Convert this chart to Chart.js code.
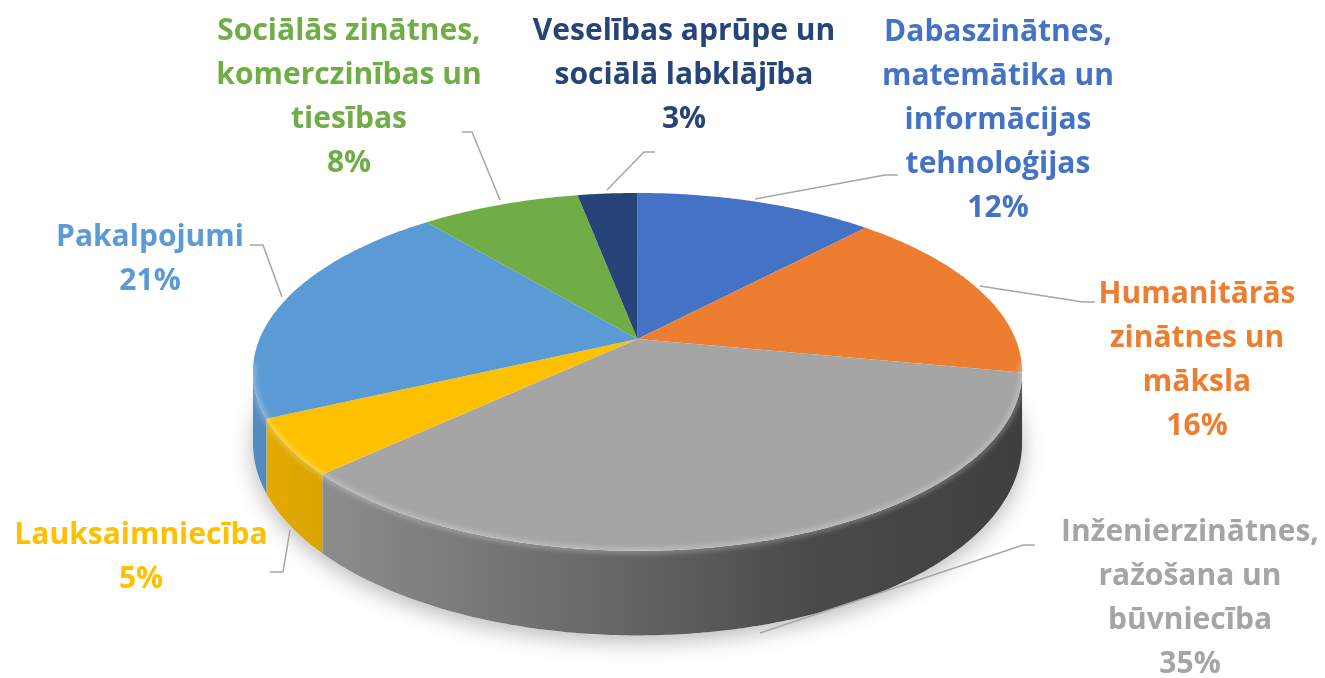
<!DOCTYPE html>
<html>
<head>
<meta charset="utf-8">
<script src="https://cdn.jsdelivr.net/npm/chart.js@4.4.0/dist/chart.umd.min.js"></script>
<style>
  html, body { margin: 0; background: #fff; }
  #wrap { width: 1325px; height: 678px; }
</style>
</head>
<body>
<div id="wrap"><canvas id="c"></canvas></div>
<script>
const categories = [
  'Dabaszinātnes, matemātika un informācijas tehnoloģijas',
  'Humanitārās zinātnes un māksla',
  'Inženierzinātnes, ražošana un būvniecība',
  'Lauksaimniecība',
  'Pakalpojumi',
  'Sociālās zinātnes, komerczinības un tiesības',
  'Veselības aprūpe un sociālā labklājība'
];
const shares = [12, 16, 35, 5, 21, 8, 3];
const colors = ['#4472C4', '#ED7D31', '#A5A5A5', '#FFC000', '#5B9BD5', '#70AD47', '#264478'];
const labelLines = [
  ['Dabaszinātnes,', 'matemātika un', 'informācijas', 'tehnoloģijas'],
  ['Humanitārās', 'zinātnes un', 'māksla'],
  ['Inženierzinātnes,', 'ražošana un', 'būvniecība'],
  ['Lauksaimniecība'],
  ['Pakalpojumi'],
  ['Sociālās zinātnes,', 'komerczinības un', 'tiesības'],
  ['Veselības aprūpe un', 'sociālā labklājība']
];

function rgb(hex, f) {
  const n = parseInt(hex.slice(1), 16);
  const c = [(n >> 16) & 255, (n >> 8) & 255, n & 255].map(v => Math.round(v * f));
  return 'rgb(' + c.join(',') + ')';
}

// 3D look: perspective projection of the library's arcs
function geom(chart) {
  const a0 = chart.getDatasetMeta(0).data[0];
  const cx = a0.x, cy = a0.y, r = a0.outerRadius;
  const B = r * 1.115, A = r * 0.51, H = r * 0.2035, u = 0.184;
  const P = (t, lvl) => {
    const d = 1 + u * Math.cos(t);
    return [cx + B * Math.sin(t) / d, cy - A * Math.cos(t) / d + lvl * H / d];
  };
  return {cx, cy, r, u, P};
}

function rimPath(ctx, P, t1, t2, lvl, move) {
  const n = Math.max(2, Math.ceil(Math.abs(t2 - t1) / 0.01));
  for (let i = 0; i <= n; i++) {
    const p = P(t1 + (t2 - t1) * i / n, lvl);
    if (move && i === 0) ctx.moveTo(p[0], p[1]); else ctx.lineTo(p[0], p[1]);
  }
}

const pie3d = {
  id: 'pie3d',
  beforeDatasetsDraw(chart) {
    const ctx = chart.ctx;
    const meta = chart.getDatasetMeta(0);
    const g = geom(chart);
    const P = g.P;
    const tL = Math.acos(-g.u), tR = 2 * Math.PI - tL;

    ctx.save();
    // soft shadow under the pie
    ctx.beginPath();
    rimPath(ctx, P, 0, 2 * Math.PI, 1, true);
    ctx.closePath();
    ctx.shadowColor = 'rgba(0,0,0,0.28)';
    ctx.shadowBlur = 22;
    ctx.shadowOffsetY = 6;
    ctx.fillStyle = '#fff';
    ctx.fill();
    ctx.restore();

    // side walls
    meta.data.forEach((arc, i) => {
      let t1 = arc.startAngle + Math.PI / 2, t2 = arc.endAngle + Math.PI / 2;
      t1 = Math.max(t1, tL); t2 = Math.min(t2, tR);
      if (t2 <= t1) return;
      const grad = ctx.createLinearGradient(250, 0, 1025, 0);
      [[0, 0.9], [0.1, 0.85], [0.5, 0.6], [0.72, 0.45], [1, 0.38]].forEach(s => grad.addColorStop(s[0], rgb(colors[i], s[1])));
      ctx.beginPath();
      rimPath(ctx, P, t1, t2, 0, true);
      rimPath(ctx, P, t2, t1, 1, false);
      ctx.closePath();
      ctx.fillStyle = grad;
      ctx.fill();
    });

    // top faces
    meta.data.forEach((arc, i) => {
      const t1 = arc.startAngle + Math.PI / 2, t2 = arc.endAngle + Math.PI / 2;
      ctx.beginPath();
      ctx.moveTo(g.cx, g.cy);
      rimPath(ctx, P, t1, t2, 0, false);
      ctx.closePath();
      ctx.fillStyle = colors[i];
      ctx.fill();
    });

    // bevel highlight along the front rim
    ctx.save();
    ctx.beginPath();
    rimPath(ctx, P, tL - 0.05, tR + 0.05, 0, true);
    ctx.strokeStyle = 'rgba(255,255,255,0.22)';
    ctx.lineWidth = 7;
    ctx.filter = 'blur(2px)';
    ctx.stroke();
    ctx.restore();
    return false;
  },
  afterDraw(chart) {
    const ctx = chart.ctx;
    const pos = [
      {x: 998, y: 32, lead: [[898, 175], [885, 175], [755, 199]]},
      {x: 1197, y: 294, lead: [[1095, 302], [1083, 302], [980, 286]]},
      {x: 1190, y: 532, lead: [[1035, 545], [1023, 545], [760, 633]]},
      {x: 141, y: 535, lead: [[270, 572], [283, 572], [290, 530]]},
      {x: 150, y: 237, lead: [[250, 245], [263, 245], [282, 297]]},
      {x: 349, y: 31, lead: [[462, 132], [472, 132], [500, 200]]},
      {x: 684, y: 31, lead: [[655, 152], [644, 152], [607, 190]]}
    ];
    ctx.save();
    ctx.strokeStyle = '#a6a6a6';
    ctx.lineWidth = 1.5;
    pos.forEach(p => {
      ctx.beginPath();
      p.lead.forEach((q, k) => k ? ctx.lineTo(q[0], q[1]) : ctx.moveTo(q[0], q[1]));
      ctx.stroke();
    });
    ctx.font = 'bold 30px "Open Sans"';
    ctx.textAlign = 'center';
    ctx.textBaseline = 'middle';
    pos.forEach((p, i) => {
      ctx.fillStyle = colors[i];
      const lines = labelLines[i].concat([shares[i] + '%']);
      lines.forEach((s, k) => ctx.fillText(s, p.x, p.y + k * 44));
    });
    ctx.restore();
  }
};

new Chart(document.getElementById('c'), {
  type: 'pie',
  data: {
    labels: categories,
    datasets: [{data: shares, backgroundColor: colors, borderWidth: 0}]
  },
  options: {
    responsive: true,
    maintainAspectRatio: false,
    animation: false,
    layout: {padding: {right: 50}},
    plugins: {legend: {display: false}, tooltip: {enabled: false}}
  },
  plugins: [pie3d]
});
</script>
</body>
</html>
